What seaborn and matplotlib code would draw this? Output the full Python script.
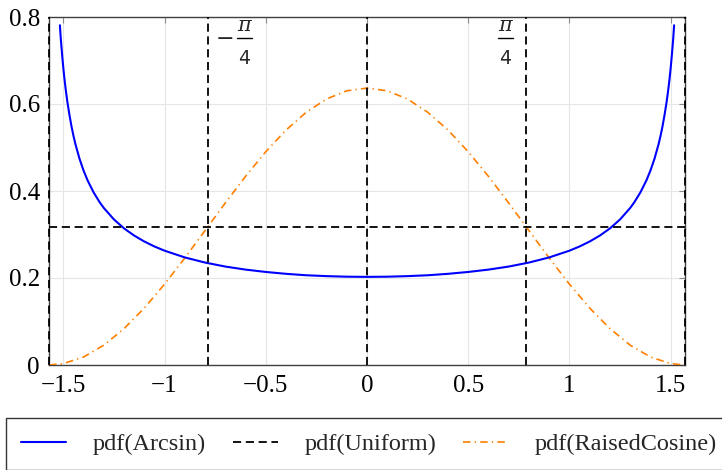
import matplotlib
matplotlib.use("Agg")
import matplotlib.pyplot as plt
import seaborn as sns
import pandas as pd
from matplotlib.lines import Line2D

# ---- data ----
arcsin_x = [-1.517, -1.513, -1.51, -1.505, -1.50, -1.495, -1.49, -1.485, -1.48, -1.47,
            -1.46, -1.45, -1.44, -1.42, -1.40, -1.38, -1.35, -1.32, -1.30, -1.25,
            -1.20, -1.15, -1.10, -1.05, -1.00, -0.90, -0.80, -0.70, -0.60, -0.50,
            -0.40, -0.30, -0.20, -0.10, 0.00, 0.10, 0.20, 0.30, 0.40, 0.50,
            0.60, 0.70, 0.80, 0.90, 1.00, 1.05, 1.10, 1.15, 1.20, 1.25,
            1.30, 1.32, 1.35, 1.38, 1.40, 1.42, 1.44, 1.45, 1.46, 1.47,
            1.48, 1.485, 1.49, 1.495, 1.50, 1.505, 1.51, 1.513, 1.517]
arcsin_y = [0.7810, 0.7531, 0.7355, 0.7077, 0.6826, 0.6602, 0.6401, 0.6218, 0.6048, 0.5756,
            0.5493, 0.5269, 0.5071, 0.4740, 0.4469, 0.4242, 0.3964, 0.3738, 0.3610, 0.3346,
            0.3140, 0.2975, 0.2839, 0.2725, 0.2628, 0.2473, 0.2355, 0.2263, 0.2193, 0.2139,
            0.2096, 0.2063, 0.2043, 0.2030, 0.2026, 0.2030, 0.2043, 0.2063, 0.2096, 0.2139,
            0.2193, 0.2263, 0.2355, 0.2473, 0.2628, 0.2725, 0.2839, 0.2975, 0.3140, 0.3346,
            0.3610, 0.3738, 0.3964, 0.4242, 0.4469, 0.4740, 0.5071, 0.5269, 0.5493, 0.5756,
            0.6048, 0.6218, 0.6401, 0.6602, 0.6826, 0.7077, 0.7355, 0.7531, 0.7810]

cos_x = [-1.5708, -1.5, -1.4, -1.3, -1.2, -1.1, -1.0, -0.9, -0.8, -0.7, -0.6, -0.5,
         -0.4, -0.3, -0.2, -0.1, 0.0, 0.1, 0.2, 0.3, 0.4, 0.5, 0.6, 0.7, 0.8, 0.9,
         1.0, 1.1, 1.2, 1.3, 1.4, 1.5, 1.5708]
cos_y = [0.0, 0.0032, 0.0184, 0.0456, 0.0836, 0.1310, 0.1858, 0.2460, 0.3090, 0.3724,
         0.4336, 0.4903, 0.5401, 0.5810, 0.6115, 0.6303, 0.6366, 0.6303, 0.6115, 0.5810,
         0.5401, 0.4903, 0.4336, 0.3724, 0.3090, 0.2460, 0.1858, 0.1310, 0.0836, 0.0456,
         0.0184, 0.0032, 0.0]

uniform_x = [-1.5708, 1.5708]
uniform_y = [0.3183, 0.3183]

vlines_x = [-1.5708, -0.7854, 0.0, 0.7854, 1.5708]

x_ticks = [-1.5, -1.0, -0.5, 0.0, 0.5, 1.0, 1.5]
x_tick_labels = ["\u22121.5", "\u22121", "\u22120.5", "0", "0.5", "1", "1.5"]
y_ticks = [0.0, 0.2, 0.4, 0.6, 0.8]
y_tick_labels = ["0", "0.2", "0.4", "0.6", "0.8"]

series_labels = ["pdf(Arcsin)", "pdf(Uniform)", "pdf(RaisedCosine)"]

# ---- style ----
sns.set_theme(style="white")
plt.rcParams["font.family"] = ["Liberation Serif", "DejaVu Serif"]

W, H = 722, 470
fig = plt.figure(figsize=(W / 100, H / 100), dpi=100)
ax = fig.add_axes([49 / W, 1 - 365 / H, (685 - 49) / W, (365 - 17) / H])

blue = "#0000ff"
orange = "#ff8000"

df_a = pd.DataFrame({"x": arcsin_x, "y": arcsin_y})
df_c = pd.DataFrame({"x": cos_x, "y": cos_y})
df_u = pd.DataFrame({"x": uniform_x, "y": uniform_y})

sns.lineplot(data=df_a, x="x", y="y", ax=ax, color=blue, lw=1.5, sort=False,
             estimator=None, zorder=4)
sns.lineplot(data=df_c, x="x", y="y", ax=ax, color=orange, lw=1.2, sort=False,
             estimator=None, zorder=3)
ax.lines[-1].set_dashes((4.5, 2.5, 0.8, 2.5))
sns.lineplot(data=df_u, x="x", y="y", ax=ax, color="black", lw=1.3, sort=False,
             estimator=None, zorder=5)
ax.lines[-1].set_dashes((4.5, 2.6))

for vx in vlines_x:
    ax.plot([vx, vx], [0, 0.8], color="black", lw=1.3, dashes=(4.5, 2.6),
            zorder=6, clip_on=False)

ax.set_xlim(-1.5708, 1.5708)
ax.set_ylim(0, 0.8)
ax.set_xticks(x_ticks)
ax.set_xticklabels(x_tick_labels)
ax.set_yticks(y_ticks)
ax.set_yticklabels(y_tick_labels)
ax.set_xlabel("")
ax.set_ylabel("")
ax.grid(True, color="#e6e6e6", lw=0.8)
ax.set_axisbelow(True)
ax.tick_params(axis="both", direction="in", length=4, width=0.8, color="#8c8c8c",
               labelsize=18, labelcolor="black", top=True, right=True)
ax.tick_params(axis="x", pad=7)
ax.tick_params(axis="y", pad=6.5)
for sp in ax.spines.values():
    sp.set_color("#404040")
    sp.set_linewidth(1.0)


# pi/4 labels built from pieces (positions in figure pixels)
def fx(px):
    return px / W


def fy(py):
    return 1 - py / H


def frac_label(cx, minus_cx=None):
    fig.text(fx(cx), fy(31), "\u03c0", ha="center", va="baseline", fontsize=15,
             family="DejaVu Serif", style="italic", zorder=10)
    fig.text(fx(cx), fy(64), "4", ha="center", va="baseline", fontsize=13.5,
             family="DejaVu Sans", zorder=10)
    fig.add_artist(Line2D([fx(cx - 7.5), fx(cx + 7.5)], [fy(38), fy(38)],
                          color="black", lw=1.0))
    if minus_cx is not None:
        fig.text(fx(minus_cx), fy(45), "\u2212", ha="center", va="baseline",
                 fontsize=16, family="DejaVu Sans", zorder=10)


frac_label(244, minus_cx=225)
frac_label(505)

# legend
handles = [
    Line2D([], [], color=blue, lw=1.5),
    Line2D([], [], color="black", lw=1.3, dashes=(4.5, 2.6)),
    Line2D([], [], color=orange, lw=1.2, dashes=(4.5, 2.5, 0.8, 2.5)),
]
leg = fig.legend(handles, series_labels, loc="upper left",
                 bbox_to_anchor=(6 / W, 1 - 418 / H), ncol=3, frameon=True,
                 fancybox=False, edgecolor="black", fontsize=17.5,
                 handlelength=1.85, handletextpad=1.1, columnspacing=1.1,
                 borderpad=0.62, borderaxespad=0)
leg.get_frame().set_linewidth(1.0)

fig.savefig("out.png", dpi=100)
